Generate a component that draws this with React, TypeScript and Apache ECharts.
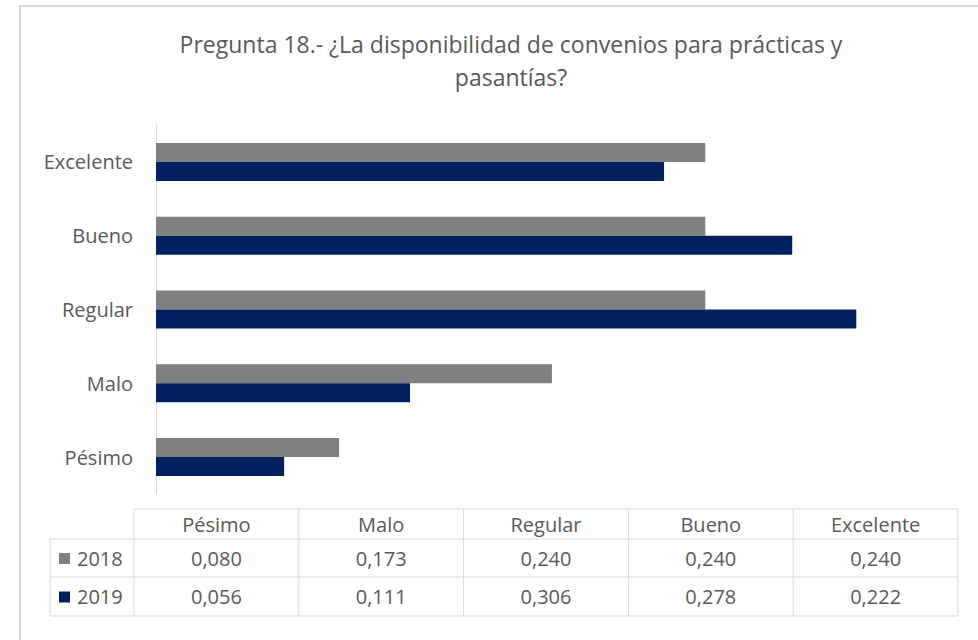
import React, { useEffect, useRef } from "react";
import * as echarts from "echarts";

const categories = ["Pésimo", "Malo", "Regular", "Bueno", "Excelente"];
const seriesNames = ["2018", "2019"];
const values2018 = [0.08, 0.173, 0.24, 0.24, 0.24];
const values2019 = [0.056, 0.111, 0.306, 0.278, 0.222];
const colors = ["#808080", "#002060"];
const titleText = "Pregunta 18.- ¿La disponibilidad de convenios para prácticas y\npasantías?";

const FONT = "'Open Sans', 'Noto Sans', sans-serif";
const TXT = "#595959";
const LINE = "#d9d9d9";
const FS = 20;

function fmt(v: number) {
  return v.toFixed(3).replace(".", ",");
}

export default function App() {
  const ref = useRef<HTMLDivElement>(null);
  useEffect(() => {
    if (!ref.current) return;
    const chart = echarts.init(ref.current, undefined, { renderer: "svg" });

    const colX = [134, 298.8, 463.6, 628.4, 793.2, 958];
    const rowY = [509, 539, 577, 616];
    const labelLeft = 50;
    const g: any[] = [];
    g.push({ type: "rect", shape: { x: 20, y: 6, width: 1000, height: 700 }, style: { fill: "none", stroke: LINE, lineWidth: 2 } });
    g.push({ type: "line", shape: { x1: colX[0], y1: rowY[0], x2: colX[5], y2: rowY[0] }, style: { stroke: LINE, lineWidth: 1 } });
    for (let r = 1; r < rowY.length; r++) {
      g.push({ type: "line", shape: { x1: labelLeft, y1: rowY[r], x2: colX[5], y2: rowY[r] }, style: { stroke: LINE, lineWidth: 1 } });
    }
    g.push({ type: "line", shape: { x1: labelLeft, y1: rowY[1], x2: labelLeft, y2: rowY[3] }, style: { stroke: LINE, lineWidth: 1 } });
    colX.forEach((x) => {
      g.push({ type: "line", shape: { x1: x, y1: rowY[0], x2: x, y2: rowY[3] }, style: { stroke: LINE, lineWidth: 1 } });
    });
    categories.forEach((c, i) => {
      g.push({ type: "text", x: (colX[i] + colX[i + 1]) / 2, y: (rowY[0] + rowY[1]) / 2, style: { text: c, fill: TXT, font: `${FS}px ${FONT}`, align: "center", verticalAlign: "middle" } });
    });
    const rows = [values2018, values2019];
    rows.forEach((vals, r) => {
      const cy = (rowY[r + 1] + rowY[r + 2]) / 2;
      g.push({ type: "rect", shape: { x: 59, y: cy - 5, width: 11, height: 11 }, style: { fill: colors[r] } });
      g.push({ type: "text", x: 77, y: cy, style: { text: seriesNames[r], fill: TXT, font: `${FS}px ${FONT}`, align: "left", verticalAlign: "middle" } });
      vals.forEach((v, i) => {
        g.push({ type: "text", x: (colX[i] + colX[i + 1]) / 2, y: cy, style: { text: fmt(v), fill: TXT, font: `${FS}px ${FONT}`, align: "center", verticalAlign: "middle" } });
      });
    });

    chart.setOption({
      animation: false,
      backgroundColor: "#ffffff",
      title: {
        text: titleText,
        left: 506,
        textAlign: "center",
        top: 22,
        textStyle: { color: TXT, fontFamily: FONT, fontWeight: "normal", fontSize: 23, lineHeight: 33 },
      },
      grid: { left: 156, top: 125, width: 801, height: 369, containLabel: false },
      xAxis: { type: "value", min: 0, max: 0.35, show: false },
      yAxis: {
        type: "category",
        data: categories,
        axisLine: { show: true, lineStyle: { color: LINE, width: 1 } },
        axisTick: { show: false },
        axisLabel: { color: TXT, fontFamily: FONT, fontSize: FS, margin: 23 },
      },
      series: [
        { name: seriesNames[0], type: "bar", data: values2018, barWidth: 19, barGap: "0%", itemStyle: { color: colors[0] } },
        { name: seriesNames[1], type: "bar", data: values2019, barWidth: 19, barGap: "0%", itemStyle: { color: colors[1] } },
      ],
      graphic: g,
    });
    return () => chart.dispose();
  }, []);
  return <div ref={ref} style={{ position: "fixed", left: 0, top: 0, width: 978, height: 640 }} />;
}
